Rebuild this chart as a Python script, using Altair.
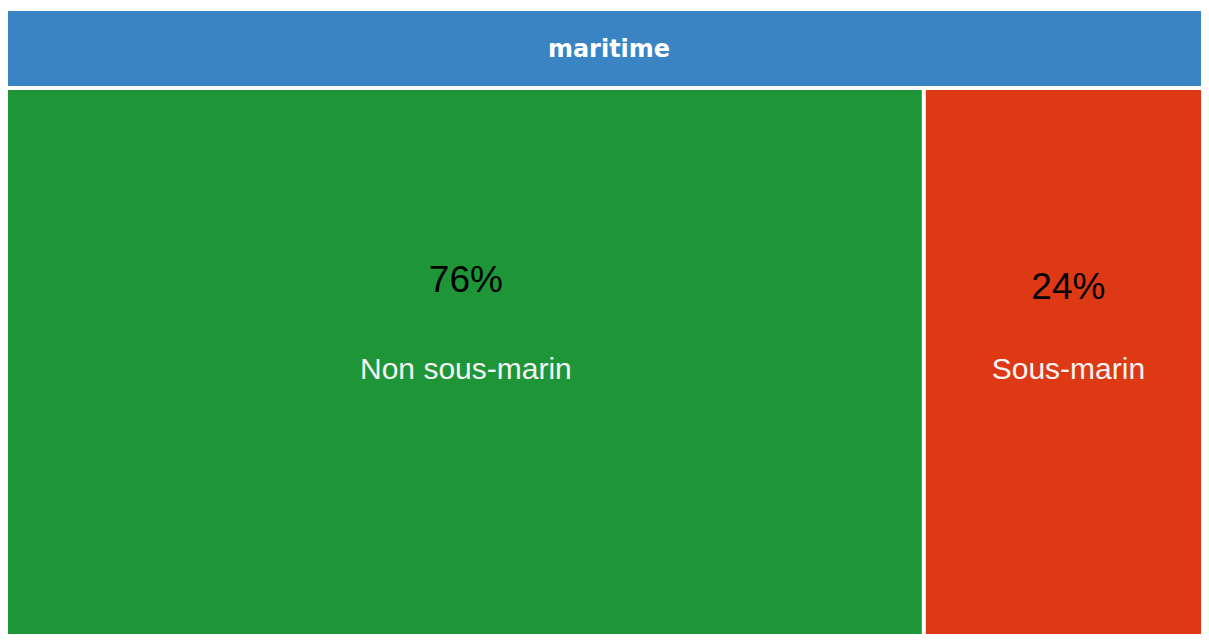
import altair as alt
import pandas as pd

# ---- data ----
group_name = ["maritime"]
categories = ["Non sous-marin", "Sous-marin"]
values = [76, 24]

W, H = 1193, 626
total = sum(values)

df = pd.DataFrame({"cat": categories, "value": values})
df["end"] = df["value"].cumsum()
df["start"] = df["end"] - df["value"]
df["mid"] = (df["start"] + df["end"]) / 2
df["pct"] = (df["value"] / total * 100).round().astype(int).astype(str) + "%"

xs = alt.Scale(domain=[0, total], range=[0, 1205])
cs = alt.Scale(domain=categories, range=["#1e9638", "#de3915"])

base = alt.Chart(df)

rects = base.mark_rect(clip=True).encode(
    x=alt.X("start:Q", scale=xs, axis=None),
    x2="end:Q",
    y=alt.value(82),
    y2=alt.value(H + 40),
    color=alt.Color("cat:N", scale=cs, legend=None),
)

gaps = base.transform_filter(f"datum.end < {total}").mark_rule(
    color="white", strokeWidth=4, clip=True
).encode(
    x=alt.X("end:Q", scale=xs, axis=None),
    y=alt.value(80),
    y2=alt.value(H + 40),
)

hdf = pd.DataFrame({"g": group_name})
header = alt.Chart(hdf).mark_rect(color="#3b84c4").encode(
    x=alt.value(0), x2=alt.value(W), y=alt.value(3), y2=alt.value(78)
)
header_text = alt.Chart(hdf).mark_text(
    font="DejaVu Sans", fontWeight="bold", fontSize=24, color="white",
    baseline="alphabetic", align="center",
).encode(x=alt.value(601), y=alt.value(49), text="g:N")

def pct_layer(cat, ypos):
    return base.transform_filter(alt.datum.cat == cat).mark_text(
        font="Liberation Sans", fontSize=37, color="black",
        baseline="alphabetic", align="center",
    ).encode(x=alt.X("mid:Q", scale=xs, axis=None), y=alt.value(ypos), text="pct:N")

pct1 = pct_layer(categories[0], 284)
pct2 = pct_layer(categories[1], 291)

labels = base.mark_text(
    font="Liberation Sans", fontSize=30, color="#f4f4f4",
    baseline="alphabetic", align="center",
).encode(x=alt.X("mid:Q", scale=xs, axis=None), y=alt.value(371), text="cat:N")

chart = alt.layer(rects, gaps, header, header_text, pct1, pct2, labels).properties(
    width=W, height=H, padding=0, autosize="none"
).configure_view(stroke=None)

chart.save("out.html", embed_options={"renderer": "svg", "actions": False})
